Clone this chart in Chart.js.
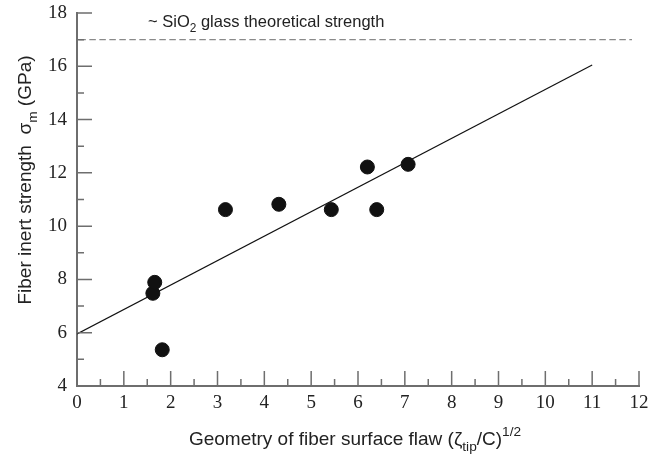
<!DOCTYPE html>
<html>
<head>
<meta charset="utf-8">
<script src="https://cdn.jsdelivr.net/npm/chart.js@4"></script>
<style>
html,body{margin:0;padding:0;background:#fff;}
canvas{display:block;}
</style>
</head>
<body>
<canvas id="c" width="648" height="454"></canvas>
<script>
// Data
const flawX     = [1.62, 1.66, 1.82, 3.17, 4.31, 5.43, 6.20, 6.40, 7.07];
const strengthY = [7.48, 7.89, 5.36, 10.62, 10.82, 10.62, 12.22, 10.62, 12.32];
const fitX   = [0, 11];
const fitY   = [5.95, 16.05];
const limitX = [0.05, 11.85];
const limitY = [17, 17];
const xMin = 0, xMax = 12, xStep = 1;
const yMin = 4, yMax = 18, yStep = 2;

const toPts = (xs, ys) => xs.map((x, i) => ({x: x, y: ys[i]}));

const AXIS_COLOR = '#6e6e6e';
const TEXT_COLOR = '#222';
const SANS = '"Liberation Sans", Arial, sans-serif';
const SERIF = '"Liberation Serif", "Times New Roman", serif';

function drawRich(ctx, segs, size) {
  let x = 0;
  for (const s of segs) {
    const fs = size * (s.scale || 1);
    ctx.font = fs + 'px ' + SANS;
    ctx.fillText(s.t, x, (s.dy || 0) * size);
    x += ctx.measureText(s.t).width;
  }
  return x;
}
function richWidth(ctx, segs, size) {
  let x = 0;
  for (const s of segs) {
    ctx.font = size * (s.scale || 1) + 'px ' + SANS;
    x += ctx.measureText(s.t).width;
  }
  return x;
}

const decor = {
  id: 'decor',
  afterDraw(chart) {
    const ctx = chart.ctx;
    const xs = chart.scales.x, ys = chart.scales.y;
    const ca = chart.chartArea;
    ctx.save();
    // inward ticks
    ctx.strokeStyle = AXIS_COLOR;
    ctx.lineWidth = 1.5;
    ctx.beginPath();
    for (let v = xMin; v <= xMax + 1e-9; v += xStep / 2) {
      const px = xs.getPixelForValue(v);
      const major = Math.abs(v - Math.round(v)) < 1e-9;
      ctx.moveTo(px, ca.bottom);
      ctx.lineTo(px, ca.bottom - (major ? 15 : 7));
    }
    for (let v = yMin; v <= yMax + 1e-9; v += yStep / 2) {
      const py = ys.getPixelForValue(v);
      const major = Math.abs((v - yMin) / yStep - Math.round((v - yMin) / yStep)) < 1e-9;
      ctx.moveTo(ca.left, py);
      ctx.lineTo(ca.left + (major ? 15 : 7), py);
    }
    ctx.stroke();

    ctx.fillStyle = TEXT_COLOR;
    ctx.textBaseline = 'alphabetic';
    ctx.textAlign = 'left';

    // annotation
    const ann = [
      {t: '~ SiO'}, {t: '2', scale: 0.72, dy: 0.3}, {t: ' glass theoretical strength'}
    ];
    ctx.save();
    ctx.translate(148, ys.getPixelForValue(17) - 12.5);
    drawRich(ctx, ann, 16.5);
    ctx.restore();

    // x title
    const xt = [
      {t: 'Geometry of fiber surface flaw ('}, {t: 'ζ'}, {t: 'tip', scale: 0.72, dy: 0.3},
      {t: '/C)'}, {t: '1/2', scale: 0.72, dy: -0.45}
    ];
    const fsX = 19;
    const wX = richWidth(ctx, xt, fsX);
    ctx.save();
    ctx.translate(355 - wX / 2, 445);
    drawRich(ctx, xt, fsX);
    ctx.restore();

    // y title
    const yt = [
      {t: 'Fiber inert strength  σ'}, {t: 'm', scale: 0.72, dy: 0.3}, {t: ' (GPa)'}
    ];
    const fsY = 19;
    const wY = richWidth(ctx, yt, fsY);
    ctx.save();
    ctx.translate(31, 180 + wY / 2);
    ctx.rotate(-Math.PI / 2);
    drawRich(ctx, yt, fsY);
    ctx.restore();

    ctx.restore();
  }
};

new Chart(document.getElementById('c'), {
  type: 'scatter',
  data: {
    datasets: [
      {
        data: toPts(limitX, limitY),
        showLine: true,
        borderColor: '#8a8a8a',
        borderWidth: 1.2,
        borderDash: [6.5, 3.5],
        pointRadius: 0,
        order: 3
      },
      {
        data: toPts(fitX, fitY),
        showLine: true,
        borderColor: '#111',
        borderWidth: 1.2,
        pointRadius: 0,
        order: 2
      },
      {
        data: toPts(flawX, strengthY),
        backgroundColor: '#111',
        borderColor: '#111',
        pointRadius: 7,
        pointHoverRadius: 7,
        showLine: false,
        order: 1
      }
    ]
  },
  options: {
    responsive: false,
    animation: false,
    devicePixelRatio: 1,
    layout: {padding: {top: 13, right: 9, left: 0, bottom: 0}},
    plugins: {legend: {display: false}, tooltip: {enabled: false}},
    scales: {
      x: {
        type: 'linear',
        min: xMin, max: xMax,
        afterFit(s) { s.height = 68; s.paddingLeft = 0; s.paddingRight = 0; },
        grid: {display: false, drawTicks: false},
        border: {display: true, color: AXIS_COLOR, width: 2},
        ticks: {
          stepSize: xStep,
          padding: 6,
          maxRotation: 0,
          autoSkip: false,
          color: TEXT_COLOR,
          font: {family: SERIF, size: 19}
        }
      },
      y: {
        type: 'linear',
        min: yMin, max: yMax,
        afterFit(s) { s.width = 77; s.paddingTop = 0; s.paddingBottom = 0; },
        grid: {display: false, drawTicks: false},
        border: {display: true, color: AXIS_COLOR, width: 2},
        ticks: {
          stepSize: yStep,
          padding: 10,
          color: TEXT_COLOR,
          font: {family: SERIF, size: 19}
        }
      }
    }
  },
  plugins: [decor]
});
</script>
</body>
</html>
